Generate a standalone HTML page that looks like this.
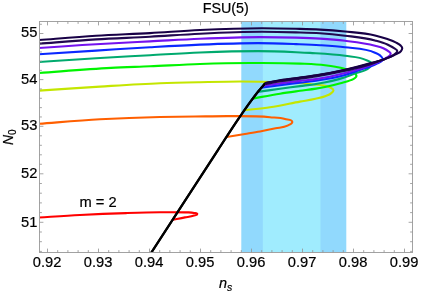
<!DOCTYPE html>
<html><head><meta charset="utf-8"><title>FSU(5)</title><style>html,body{margin:0;padding:0;background:#fff}svg{display:block;will-change:transform}</style></head><body>
<svg width="436" height="292" viewBox="0 0 436 292">
<rect width="436" height="292" fill="#fff"/>
<defs><clipPath id="c"><rect x="39.5" y="21.5" width="373.0" height="231.0"/></clipPath></defs>
<rect x="241.3" y="21.5" width="105.0" height="231.0" fill="#91d9fd"/>
<rect x="262.8" y="21.5" width="57.7" height="231.0" fill="#a0ecfe"/>
<g clip-path="url(#c)" fill="none" stroke-linejoin="round" stroke-linecap="butt">
<path d="M36.00 217.70 C50.67 216.80 65.33 215.76 80.00 215.00 C95.33 214.21 110.66 213.58 126.00 213.10 C137.33 212.75 148.66 212.39 160.00 212.30 C168.33 212.24 176.67 212.05 185.00 212.40 C188.00 212.53 191.10 212.11 194.00 212.90 C195.13 213.21 197.30 212.93 197.30 214.10 C197.30 215.29 195.12 215.09 194.00 215.50 C191.12 216.54 188.01 216.80 185.00 217.40 C180.81 218.23 176.60 218.93 172.40 219.70" stroke="#ff0000" stroke-width="2.1"/>
<path d="M36.00 124.00 C57.33 122.43 78.64 120.48 100.00 119.30 C119.98 118.20 139.99 117.46 160.00 117.00 C171.66 116.73 183.33 116.65 195.00 116.50 C206.67 116.35 218.33 116.02 230.00 116.10 C243.34 116.19 256.72 115.94 270.00 117.20 C275.01 117.67 280.17 117.56 285.00 119.00 C287.51 119.75 292.30 119.28 292.30 121.90 C292.30 123.92 289.26 124.61 287.50 125.60 C283.96 127.60 279.57 127.44 275.60 128.30 C270.41 129.43 265.22 130.53 260.00 131.50 C255.02 132.42 250.00 133.18 245.00 134.00 C238.84 135.01 232.67 136.00 226.50 137.00" stroke="#ff5f00" stroke-width="2.1"/>
<path d="M36.00 90.80 C57.33 89.40 78.66 87.88 100.00 86.60 C119.99 85.40 139.98 84.07 160.00 83.30 C173.33 82.79 186.67 82.50 200.00 82.20 C213.33 81.90 226.66 81.50 240.00 81.50 C253.34 81.50 266.67 81.69 280.00 82.20 C287.44 82.48 294.89 82.64 302.30 83.30 C306.01 83.63 309.70 84.10 313.40 84.50 C316.83 84.87 320.32 84.89 323.70 85.60 C325.80 86.04 328.04 86.24 329.90 87.30 C331.26 88.07 333.50 88.74 333.50 90.30 C333.50 91.63 332.00 92.53 331.00 93.40 C329.54 94.68 327.59 95.26 325.80 96.00 C322.51 97.37 318.96 97.99 315.50 98.80 C310.39 100.00 305.16 100.66 300.00 101.60 C289.99 103.43 280.06 105.70 270.00 107.20 C261.60 108.45 253.13 109.20 244.70 110.20" stroke="#c4e600" stroke-width="2.1"/>
<path d="M36.00 73.20 C61.00 71.43 85.97 69.18 111.00 67.90 C123.99 67.24 137.00 66.86 150.00 66.30 C166.67 65.58 183.32 64.55 200.00 64.00 C216.66 63.45 233.33 63.07 250.00 63.00 C266.67 62.93 283.35 62.82 300.00 63.60 C308.34 63.99 316.71 64.19 325.00 65.20 C328.44 65.62 331.89 66.07 335.30 66.70 C338.08 67.21 340.90 67.66 343.60 68.50 C346.14 69.29 348.72 70.12 351.00 71.50 C353.03 72.73 356.50 73.63 356.50 76.00 C356.50 76.88 355.54 77.50 354.90 78.10 C353.79 79.14 352.20 79.50 350.80 80.10 C347.51 81.52 343.95 82.24 340.50 83.20 C335.38 84.63 330.21 85.95 325.00 87.00 C322.01 87.60 319.01 88.11 316.00 88.60 C310.69 89.47 305.33 90.05 300.00 90.80 C293.33 91.74 286.65 92.64 280.00 93.70 C270.77 95.16 261.60 96.97 252.40 98.60" stroke="#00f400" stroke-width="2.1"/>
<path d="M36.00 62.20 C56.00 60.87 75.99 59.42 96.00 58.20 C113.99 57.11 132.00 56.19 150.00 55.20 C166.67 54.29 183.32 53.17 200.00 52.50 C219.32 51.72 238.66 51.10 258.00 51.10 C270.67 51.10 283.34 51.64 296.00 52.20 C300.67 52.41 305.34 52.62 310.00 52.90 C321.69 53.59 333.43 54.01 345.00 55.80 C351.92 56.87 359.36 56.72 365.60 59.90 C367.86 61.05 372.00 61.47 372.00 64.00 C372.00 65.68 370.02 66.75 368.80 67.90 C365.27 71.23 359.82 71.55 355.30 73.30 C351.88 74.63 348.48 76.02 345.00 77.20 C335.60 80.38 325.79 82.36 316.00 84.00 C310.69 84.89 305.33 85.39 300.00 86.10 C293.33 86.99 286.67 87.90 280.00 88.80 C272.43 89.83 264.87 90.87 257.30 91.90" stroke="#00aa6e" stroke-width="2.1"/>
<path d="M36.00 54.40 C56.00 53.13 76.00 51.86 96.00 50.60 C114.00 49.46 131.99 48.23 150.00 47.20 C166.66 46.25 183.32 45.27 200.00 44.60 C219.32 43.83 238.66 43.10 258.00 43.10 C270.67 43.10 283.34 43.62 296.00 44.10 C304.00 44.41 312.01 44.68 320.00 45.20 C328.35 45.74 336.70 46.24 345.00 47.30 C355.08 48.59 365.80 48.42 375.00 52.75 C376.71 53.55 378.60 54.13 380.00 55.40 C381.19 56.48 382.80 57.70 382.80 59.30 C382.80 62.06 378.39 62.62 376.00 64.00 C371.22 66.75 365.70 67.96 360.50 69.80 C355.36 71.62 350.24 73.51 345.00 75.00 C335.53 77.70 325.75 79.28 316.00 80.70 C310.69 81.48 305.33 81.95 300.00 82.60 C293.33 83.41 286.66 84.21 280.00 85.10 C273.63 85.95 267.27 86.90 260.90 87.80" stroke="#0a28ff" stroke-width="2.1"/>
<path d="M36.00 48.20 C56.00 46.87 75.99 45.38 96.00 44.20 C113.99 43.14 132.00 42.35 150.00 41.40 C166.67 40.52 183.32 39.39 200.00 38.70 C219.99 37.87 239.99 37.10 260.00 37.10 C272.00 37.10 284.00 37.23 296.00 37.60 C304.00 37.84 312.01 38.09 320.00 38.60 C328.35 39.14 336.70 39.79 345.00 40.80 C355.06 42.03 365.22 43.06 375.00 45.70 C377.79 46.45 380.68 46.97 383.30 48.20 C385.02 49.01 386.76 49.86 388.20 51.10 C389.13 51.90 390.70 52.57 390.70 53.80 C390.70 55.69 388.10 56.55 386.60 57.70 C384.32 59.45 381.60 60.56 379.00 61.80 C374.69 63.86 370.12 65.34 365.60 66.90 C358.83 69.24 351.93 71.20 345.00 73.00 C335.44 75.48 325.77 77.67 316.00 79.10 C310.69 79.88 305.33 80.27 300.00 80.90 C293.33 81.69 286.66 82.52 280.00 83.40 C274.26 84.16 268.53 85.00 262.80 85.80" stroke="#7412ee" stroke-width="2.1"/>
<path d="M150.10 254.50 C172.73 219.67 195.25 184.75 218.00 150.00 C224.99 139.33 231.79 128.52 239.00 118.00 C242.45 112.97 245.90 107.93 249.50 103.00 C252.46 98.95 255.43 94.89 258.60 91.00 C260.74 88.38 263.00 85.87 265.20 83.30 L265.20 83.30 C270.13 82.37 275.05 81.32 280.00 80.50 C286.64 79.41 293.34 78.76 300.00 77.85 C305.34 77.12 310.68 76.45 316.00 75.60 C325.72 74.05 335.40 72.17 345.00 70.00 C353.39 68.10 361.72 65.94 370.00 63.60 C375.36 62.09 380.67 60.40 386.00 58.80" stroke="#000" stroke-width="2.0" stroke-linejoin="miter" stroke-miterlimit="6"/>
<path d="M150.10 254.50 C172.73 219.67 195.25 184.75 218.00 150.00 C224.99 139.33 231.79 128.52 239.00 118.00 C242.45 112.97 245.90 107.93 249.50 103.00 C252.46 98.95 255.43 94.89 258.60 91.00 C260.74 88.38 263.00 85.87 265.20 83.30" stroke="#000" stroke-width="2.3"/>
<path d="M36.00 43.90 C56.00 42.40 75.98 40.64 96.00 39.40 C113.99 38.29 132.00 37.69 150.00 36.70 C166.67 35.78 183.32 34.48 200.00 33.70 C220.65 32.73 241.32 31.80 262.00 31.80 C273.34 31.80 284.67 32.07 296.00 32.40 C304.00 32.63 312.01 32.77 320.00 33.30 C328.35 33.85 336.69 34.68 345.00 35.70 C355.05 36.94 365.24 37.70 375.00 40.40 C379.20 41.56 383.46 42.64 387.40 44.50 C389.68 45.58 391.98 46.69 394.00 48.20 C395.17 49.08 397.30 49.64 397.30 51.10 C397.30 53.03 394.75 54.04 393.20 55.20 C390.80 57.00 387.76 57.74 385.00 58.90 C380.09 60.96 375.07 62.76 370.00 64.40 C361.82 67.05 353.39 68.90 345.00 70.80 C335.40 72.97 325.72 74.85 316.00 76.40 C310.68 77.25 305.34 77.92 300.00 78.65 C293.34 79.56 286.64 80.21 280.00 81.30 C275.05 82.12 270.13 83.17 265.20 84.10" stroke="#220850" stroke-width="2.1"/>
<path d="M36.00 40.20 C56.00 38.73 75.98 37.02 96.00 35.80 C113.99 34.70 132.01 34.11 150.00 33.10 C166.67 32.16 183.32 30.78 200.00 30.00 C220.65 29.04 241.33 28.30 262.00 28.30 C273.33 28.30 284.67 28.51 296.00 28.80 C304.00 29.01 312.01 29.17 320.00 29.60 C328.35 30.05 336.68 30.67 345.00 31.50 C355.03 32.51 365.21 32.98 375.00 35.40 C379.19 36.43 383.34 37.64 387.40 39.10 C390.17 40.10 392.99 41.02 395.60 42.40 C397.33 43.32 399.32 44.01 400.60 45.50 C401.29 46.30 402.25 47.15 402.25 48.20 C402.25 49.25 401.61 50.24 401.00 51.10 C399.79 52.81 397.44 53.30 395.60 54.30 C393.74 55.31 391.83 56.24 389.90 57.10 C383.56 59.94 376.68 61.39 370.00 63.30 C361.73 65.67 353.39 67.80 345.00 69.70 C335.40 71.87 325.72 73.75 316.00 75.30 C310.68 76.15 305.34 76.82 300.00 77.55 C293.34 78.46 286.64 79.11 280.00 80.20 C275.05 81.02 270.13 82.07 265.20 83.00" stroke="#180046" stroke-width="2.1"/>
</g>
<rect x="39.5" y="21.5" width="373.0" height="231.0" stroke="#a2a2a2" stroke-width="1" fill="none"/>
<g stroke="#969696" stroke-width="0.85"><path d="M47.50 252.5 v-3.9 M47.50 21.5 v3.9"/><path d="M57.70 252.5 v-2.4 M57.70 21.5 v2.4"/><path d="M67.90 252.5 v-2.4 M67.90 21.5 v2.4"/><path d="M78.10 252.5 v-2.4 M78.10 21.5 v2.4"/><path d="M88.30 252.5 v-2.4 M88.30 21.5 v2.4"/><path d="M98.50 252.5 v-3.9 M98.50 21.5 v3.9"/><path d="M108.70 252.5 v-2.4 M108.70 21.5 v2.4"/><path d="M118.90 252.5 v-2.4 M118.90 21.5 v2.4"/><path d="M129.10 252.5 v-2.4 M129.10 21.5 v2.4"/><path d="M139.30 252.5 v-2.4 M139.30 21.5 v2.4"/><path d="M149.50 252.5 v-3.9 M149.50 21.5 v3.9"/><path d="M159.70 252.5 v-2.4 M159.70 21.5 v2.4"/><path d="M169.90 252.5 v-2.4 M169.90 21.5 v2.4"/><path d="M180.10 252.5 v-2.4 M180.10 21.5 v2.4"/><path d="M190.30 252.5 v-2.4 M190.30 21.5 v2.4"/><path d="M200.50 252.5 v-3.9 M200.50 21.5 v3.9"/><path d="M210.70 252.5 v-2.4 M210.70 21.5 v2.4"/><path d="M220.90 252.5 v-2.4 M220.90 21.5 v2.4"/><path d="M231.10 252.5 v-2.4 M231.10 21.5 v2.4"/><path d="M241.30 252.5 v-2.4 M241.30 21.5 v2.4"/><path d="M251.50 252.5 v-3.9 M251.50 21.5 v3.9"/><path d="M261.70 252.5 v-2.4 M261.70 21.5 v2.4"/><path d="M271.90 252.5 v-2.4 M271.90 21.5 v2.4"/><path d="M282.10 252.5 v-2.4 M282.10 21.5 v2.4"/><path d="M292.30 252.5 v-2.4 M292.30 21.5 v2.4"/><path d="M302.50 252.5 v-3.9 M302.50 21.5 v3.9"/><path d="M312.70 252.5 v-2.4 M312.70 21.5 v2.4"/><path d="M322.90 252.5 v-2.4 M322.90 21.5 v2.4"/><path d="M333.10 252.5 v-2.4 M333.10 21.5 v2.4"/><path d="M343.30 252.5 v-2.4 M343.30 21.5 v2.4"/><path d="M353.50 252.5 v-3.9 M353.50 21.5 v3.9"/><path d="M363.70 252.5 v-2.4 M363.70 21.5 v2.4"/><path d="M373.90 252.5 v-2.4 M373.90 21.5 v2.4"/><path d="M384.10 252.5 v-2.4 M384.10 21.5 v2.4"/><path d="M394.30 252.5 v-2.4 M394.30 21.5 v2.4"/><path d="M404.50 252.5 v-3.9 M404.50 21.5 v3.9"/><path d="M39.5 251.40 h2.4 M412.5 251.40 h-2.4"/><path d="M39.5 241.70 h2.4 M412.5 241.70 h-2.4"/><path d="M39.5 232.00 h2.4 M412.5 232.00 h-2.4"/><path d="M39.5 222.30 h3.9 M412.5 222.30 h-3.9"/><path d="M39.5 212.60 h2.4 M412.5 212.60 h-2.4"/><path d="M39.5 202.90 h2.4 M412.5 202.90 h-2.4"/><path d="M39.5 193.20 h2.4 M412.5 193.20 h-2.4"/><path d="M39.5 183.50 h2.4 M412.5 183.50 h-2.4"/><path d="M39.5 173.80 h3.9 M412.5 173.80 h-3.9"/><path d="M39.5 164.30 h2.4 M412.5 164.30 h-2.4"/><path d="M39.5 154.80 h2.4 M412.5 154.80 h-2.4"/><path d="M39.5 145.30 h2.4 M412.5 145.30 h-2.4"/><path d="M39.5 135.80 h2.4 M412.5 135.80 h-2.4"/><path d="M39.5 126.30 h3.9 M412.5 126.30 h-3.9"/><path d="M39.5 116.96 h2.4 M412.5 116.96 h-2.4"/><path d="M39.5 107.62 h2.4 M412.5 107.62 h-2.4"/><path d="M39.5 98.28 h2.4 M412.5 98.28 h-2.4"/><path d="M39.5 88.94 h2.4 M412.5 88.94 h-2.4"/><path d="M39.5 79.60 h3.9 M412.5 79.60 h-3.9"/><path d="M39.5 70.38 h2.4 M412.5 70.38 h-2.4"/><path d="M39.5 61.16 h2.4 M412.5 61.16 h-2.4"/><path d="M39.5 51.94 h2.4 M412.5 51.94 h-2.4"/><path d="M39.5 42.72 h2.4 M412.5 42.72 h-2.4"/><path d="M39.5 33.50 h3.9 M412.5 33.50 h-3.9"/><path d="M39.5 24.28 h2.4 M412.5 24.28 h-2.4"/></g>
<g font-family="Liberation Sans, Arial, sans-serif" font-size="14.7" fill="#000" stroke="#000" stroke-width="0.2">
<text x="47.1" y="266.5" text-anchor="middle">0.92</text>
<text x="98.1" y="266.5" text-anchor="middle">0.93</text>
<text x="149.1" y="266.5" text-anchor="middle">0.94</text>
<text x="200.1" y="266.5" text-anchor="middle">0.95</text>
<text x="251.1" y="266.5" text-anchor="middle">0.96</text>
<text x="302.1" y="266.5" text-anchor="middle">0.97</text>
<text x="353.1" y="266.5" text-anchor="middle">0.98</text>
<text x="404.1" y="266.5" text-anchor="middle">0.99</text>
<text x="37.4" y="226.9" text-anchor="end">51</text>
<text x="37.4" y="177.8" text-anchor="end">52</text>
<text x="37.4" y="129.8" text-anchor="end">53</text>
<text x="37.4" y="83.5" text-anchor="end">54</text>
<text x="37.4" y="37.1" text-anchor="end">55</text>
<text x="225.8" y="13.2" text-anchor="middle" font-size="14.3">FSU(5)</text>
<text x="79.5" y="207.4">m = 2</text>
<text x="219" y="287.6"><tspan font-style="italic" font-size="14.5">n</tspan><tspan font-style="italic" font-size="10.5" dy="3.1">s</tspan></text>
<text transform="translate(12.5,145) rotate(-90)"><tspan font-style="italic" font-size="14">N</tspan><tspan font-size="10" dy="3.1">0</tspan></text>
</g>
</svg>
</body></html>
